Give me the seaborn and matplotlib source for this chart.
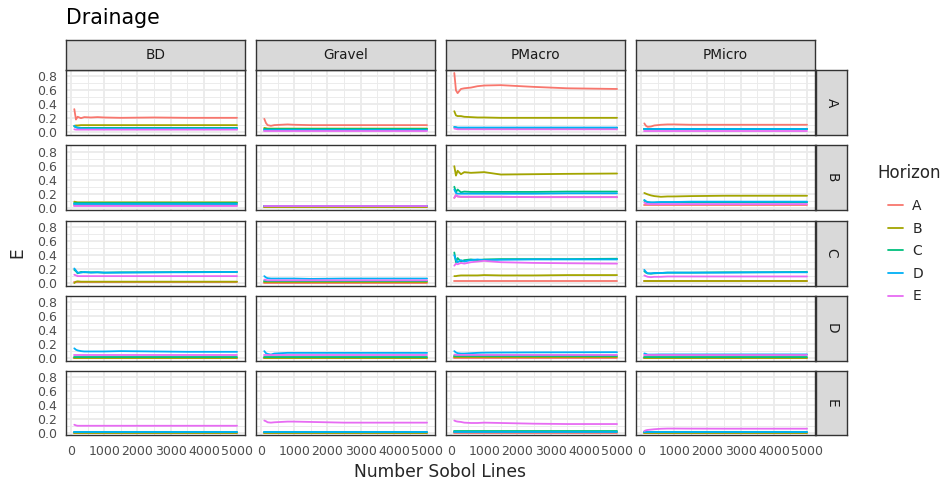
import numpy as np
import pandas as pd
import matplotlib
matplotlib.use("Agg")
import matplotlib.pyplot as plt
from matplotlib.lines import Line2D
import seaborn as sns

sns.set_style("white")
plt.rcParams['font.family'] = ['DejaVu Sans']

# ---------------- data ----------------
COLUMNS = ["BD", "Gravel", "PMacro", "PMicro"]
ROWS = ["A", "B", "C", "D", "E"]
HORIZONS = ["A", "B", "C", "D", "E"]
N_LINES = [100, 150, 200, 300, 400, 600, 800, 1000, 1500, 2500, 3500, 5000]

# each entry: row -> [A, B, C, D, E] series over N_LINES
BD = {
    "A": [[0.33, 0.18, 0.22, 0.20, 0.215, 0.21, 0.215, 0.21, 0.205, 0.21, 0.205, 0.205],
          [0.09, 0.095, 0.095, 0.10, 0.10, 0.10, 0.10, 0.10, 0.10, 0.10, 0.10, 0.10],
          [0.08, 0.07, 0.065, 0.06, 0.06, 0.06, 0.06, 0.06, 0.06, 0.06, 0.06, 0.06],
          [0.09, 0.07, 0.06, 0.055, 0.05, 0.05, 0.05, 0.05, 0.05, 0.05, 0.05, 0.05],
          [0.04, 0.035, 0.035, 0.035, 0.035, 0.035, 0.035, 0.035, 0.035, 0.035, 0.035, 0.035]],
    "B": [[0.03, 0.03, 0.03, 0.03, 0.03, 0.03, 0.03, 0.03, 0.03, 0.03, 0.03, 0.03],
          [0.085, 0.08, 0.075, 0.075, 0.075, 0.075, 0.075, 0.075, 0.075, 0.075, 0.075, 0.075],
          [0.06, 0.06, 0.06, 0.06, 0.06, 0.06, 0.06, 0.06, 0.06, 0.06, 0.06, 0.06],
          [0.05, 0.05, 0.05, 0.05, 0.05, 0.05, 0.05, 0.05, 0.05, 0.05, 0.05, 0.05],
          [0.025, 0.025, 0.025, 0.025, 0.025, 0.025, 0.025, 0.025, 0.025, 0.025, 0.025, 0.025]],
    "C": [[0.01, 0.01, 0.01, 0.01, 0.01, 0.01, 0.01, 0.01, 0.01, 0.01, 0.01, 0.01],
          [0.0, 0.02, 0.025, 0.02, 0.02, 0.02, 0.02, 0.02, 0.02, 0.02, 0.02, 0.02],
          [0.19, 0.17, 0.14, 0.16, 0.155, 0.155, 0.155, 0.15, 0.155, 0.155, 0.16, 0.16],
          [0.21, 0.18, 0.15, 0.15, 0.16, 0.15, 0.155, 0.15, 0.15, 0.155, 0.155, 0.16],
          [0.12, 0.11, 0.10, 0.10, 0.10, 0.10, 0.10, 0.10, 0.10, 0.10, 0.10, 0.10]],
    "D": [[0.003, 0.003, 0.003, 0.003, 0.003, 0.003, 0.003, 0.003, 0.003, 0.003, 0.003, 0.003],
          [0.006, 0.006, 0.006, 0.006, 0.006, 0.006, 0.006, 0.006, 0.006, 0.006, 0.006, 0.006],
          [0.012, 0.012, 0.012, 0.012, 0.012, 0.012, 0.012, 0.012, 0.012, 0.012, 0.012, 0.012],
          [0.14, 0.12, 0.11, 0.10, 0.095, 0.095, 0.095, 0.095, 0.10, 0.095, 0.09, 0.09],
          [0.05, 0.05, 0.05, 0.05, 0.05, 0.05, 0.05, 0.05, 0.05, 0.05, 0.05, 0.05]],
    "E": [[0.002, 0.002, 0.002, 0.002, 0.002, 0.002, 0.002, 0.002, 0.002, 0.002, 0.002, 0.002],
          [0.004, 0.004, 0.004, 0.004, 0.004, 0.004, 0.004, 0.004, 0.004, 0.004, 0.004, 0.004],
          [0.012, 0.012, 0.012, 0.012, 0.012, 0.012, 0.012, 0.012, 0.012, 0.012, 0.012, 0.012],
          [0.015, 0.015, 0.015, 0.015, 0.015, 0.015, 0.015, 0.015, 0.015, 0.015, 0.015, 0.015],
          [0.12, 0.11, 0.105, 0.105, 0.105, 0.105, 0.105, 0.105, 0.105, 0.105, 0.105, 0.105]],
}

GRAVEL = {
    "A": [[0.19, 0.13, 0.10, 0.09, 0.10, 0.105, 0.11, 0.105, 0.10, 0.10, 0.10, 0.10],
          [0.06, 0.055, 0.05, 0.05, 0.05, 0.05, 0.05, 0.05, 0.05, 0.05, 0.05, 0.05],
          [0.04, 0.04, 0.04, 0.04, 0.04, 0.04, 0.04, 0.04, 0.04, 0.04, 0.04, 0.04],
          [0.035, 0.035, 0.035, 0.035, 0.035, 0.035, 0.035, 0.035, 0.035, 0.035, 0.035, 0.035],
          [0.02, 0.02, 0.02, 0.02, 0.02, 0.02, 0.02, 0.02, 0.02, 0.02, 0.02, 0.02]],
    "B": [[0.012, 0.012, 0.012, 0.012, 0.012, 0.012, 0.012, 0.012, 0.012, 0.012, 0.012, 0.012],
          [0.014, 0.014, 0.014, 0.014, 0.014, 0.014, 0.014, 0.014, 0.014, 0.014, 0.014, 0.014],
          [0.016, 0.016, 0.016, 0.016, 0.016, 0.016, 0.016, 0.016, 0.016, 0.016, 0.016, 0.016],
          [0.018, 0.018, 0.018, 0.018, 0.018, 0.018, 0.018, 0.018, 0.018, 0.018, 0.018, 0.018],
          [0.022, 0.022, 0.022, 0.022, 0.022, 0.022, 0.022, 0.022, 0.022, 0.022, 0.022, 0.022]],
    "C": [[0.005, 0.005, 0.005, 0.005, 0.005, 0.005, 0.005, 0.005, 0.005, 0.005, 0.005, 0.005],
          [0.015, 0.015, 0.015, 0.015, 0.015, 0.015, 0.015, 0.015, 0.015, 0.015, 0.015, 0.015],
          [0.03, 0.03, 0.03, 0.03, 0.03, 0.03, 0.03, 0.03, 0.03, 0.03, 0.03, 0.03],
          [0.10, 0.08, 0.07, 0.065, 0.065, 0.065, 0.065, 0.065, 0.06, 0.065, 0.065, 0.065],
          [0.05, 0.045, 0.04, 0.04, 0.04, 0.04, 0.04, 0.04, 0.04, 0.04, 0.04, 0.04]],
    "D": [[0.004, 0.004, 0.004, 0.004, 0.004, 0.004, 0.004, 0.004, 0.004, 0.004, 0.004, 0.004],
          [0.008, 0.008, 0.008, 0.008, 0.008, 0.008, 0.008, 0.008, 0.008, 0.008, 0.008, 0.008],
          [0.015, 0.015, 0.015, 0.015, 0.015, 0.015, 0.015, 0.015, 0.015, 0.015, 0.015, 0.015],
          [0.10, 0.07, 0.06, 0.05, 0.065, 0.07, 0.075, 0.075, 0.075, 0.075, 0.075, 0.075],
          [0.04, 0.04, 0.04, 0.04, 0.04, 0.04, 0.04, 0.04, 0.04, 0.04, 0.04, 0.04]],
    "E": [[0.002, 0.002, 0.002, 0.002, 0.002, 0.002, 0.002, 0.002, 0.002, 0.002, 0.002, 0.002],
          [0.005, 0.005, 0.005, 0.005, 0.005, 0.005, 0.005, 0.005, 0.005, 0.005, 0.005, 0.005],
          [0.012, 0.012, 0.012, 0.012, 0.012, 0.012, 0.012, 0.012, 0.012, 0.012, 0.012, 0.012],
          [0.015, 0.015, 0.015, 0.015, 0.015, 0.015, 0.015, 0.015, 0.015, 0.015, 0.015, 0.015],
          [0.18, 0.17, 0.155, 0.15, 0.155, 0.16, 0.165, 0.165, 0.16, 0.15, 0.15, 0.15]],
}

PMACRO = {
    "A": [[0.85, 0.60, 0.56, 0.62, 0.63, 0.64, 0.66, 0.67, 0.675, 0.65, 0.63, 0.62],
          [0.30, 0.24, 0.23, 0.23, 0.22, 0.215, 0.21, 0.21, 0.205, 0.205, 0.205, 0.205],
          [0.07, 0.065, 0.06, 0.06, 0.06, 0.06, 0.06, 0.06, 0.06, 0.06, 0.06, 0.06],
          [0.075, 0.07, 0.065, 0.065, 0.065, 0.065, 0.065, 0.065, 0.065, 0.065, 0.065, 0.065],
          [0.05, 0.045, 0.04, 0.04, 0.04, 0.04, 0.04, 0.04, 0.04, 0.04, 0.04, 0.04]],
    "B": [[0.14, 0.18, 0.16, 0.155, 0.155, 0.155, 0.155, 0.155, 0.155, 0.15, 0.15, 0.15],
          [0.595, 0.46, 0.53, 0.48, 0.51, 0.50, 0.505, 0.51, 0.475, 0.48, 0.485, 0.49],
          [0.30, 0.22, 0.26, 0.22, 0.23, 0.225, 0.225, 0.225, 0.225, 0.225, 0.23, 0.23],
          [0.26, 0.21, 0.20, 0.20, 0.20, 0.20, 0.20, 0.20, 0.20, 0.20, 0.205, 0.205],
          [0.14, 0.18, 0.16, 0.155, 0.155, 0.155, 0.155, 0.155, 0.155, 0.15, 0.15, 0.15]],
    "C": [[0.025, 0.025, 0.025, 0.025, 0.025, 0.025, 0.025, 0.025, 0.025, 0.025, 0.025, 0.025],
          [0.10, 0.10, 0.105, 0.11, 0.11, 0.11, 0.11, 0.115, 0.11, 0.11, 0.115, 0.115],
          [0.44, 0.30, 0.36, 0.31, 0.33, 0.34, 0.33, 0.34, 0.345, 0.345, 0.345, 0.35],
          [0.40, 0.33, 0.30, 0.33, 0.31, 0.33, 0.34, 0.33, 0.335, 0.34, 0.34, 0.34],
          [0.25, 0.28, 0.27, 0.29, 0.28, 0.30, 0.31, 0.32, 0.30, 0.29, 0.285, 0.28]],
    "D": [[0.008, 0.008, 0.008, 0.008, 0.008, 0.008, 0.008, 0.008, 0.008, 0.008, 0.008, 0.008],
          [0.015, 0.015, 0.015, 0.015, 0.015, 0.015, 0.015, 0.015, 0.015, 0.015, 0.015, 0.015],
          [0.03, 0.03, 0.03, 0.03, 0.03, 0.03, 0.03, 0.03, 0.03, 0.03, 0.03, 0.03],
          [0.10, 0.08, 0.07, 0.065, 0.065, 0.07, 0.075, 0.078, 0.08, 0.082, 0.083, 0.085],
          [0.05, 0.045, 0.045, 0.045, 0.045, 0.045, 0.045, 0.045, 0.045, 0.045, 0.045, 0.045]],
    "E": [[0.005, 0.005, 0.005, 0.005, 0.005, 0.005, 0.005, 0.005, 0.005, 0.005, 0.005, 0.005],
          [0.01, 0.01, 0.01, 0.01, 0.01, 0.01, 0.01, 0.01, 0.01, 0.01, 0.01, 0.01],
          [0.03, 0.03, 0.03, 0.03, 0.03, 0.03, 0.03, 0.03, 0.03, 0.03, 0.03, 0.03],
          [0.02, 0.02, 0.02, 0.02, 0.02, 0.02, 0.02, 0.02, 0.02, 0.02, 0.02, 0.02],
          [0.18, 0.17, 0.165, 0.16, 0.15, 0.145, 0.145, 0.15, 0.145, 0.135, 0.13, 0.13]],
}

PMICRO = {
    "A": [[0.125, 0.09, 0.075, 0.08, 0.095, 0.105, 0.11, 0.11, 0.105, 0.105, 0.105, 0.105],
          [0.05, 0.05, 0.05, 0.05, 0.05, 0.05, 0.05, 0.05, 0.05, 0.05, 0.05, 0.05],
          [0.045, 0.045, 0.045, 0.045, 0.045, 0.045, 0.045, 0.045, 0.045, 0.045, 0.045, 0.045],
          [0.04, 0.04, 0.04, 0.04, 0.04, 0.04, 0.04, 0.04, 0.04, 0.04, 0.04, 0.04],
          [0.02, 0.02, 0.02, 0.02, 0.02, 0.02, 0.02, 0.02, 0.02, 0.02, 0.02, 0.02]],
    "B": [[0.04, 0.04, 0.04, 0.04, 0.04, 0.04, 0.04, 0.04, 0.04, 0.04, 0.04, 0.04],
          [0.21, 0.20, 0.19, 0.175, 0.165, 0.155, 0.16, 0.16, 0.165, 0.17, 0.17, 0.17],
          [0.10, 0.085, 0.075, 0.07, 0.07, 0.075, 0.075, 0.075, 0.075, 0.075, 0.075, 0.075],
          [0.11, 0.09, 0.08, 0.075, 0.075, 0.08, 0.08, 0.08, 0.085, 0.085, 0.085, 0.085],
          [0.07, 0.06, 0.05, 0.05, 0.05, 0.05, 0.05, 0.05, 0.05, 0.05, 0.05, 0.05]],
    "C": [[0.025, 0.025, 0.025, 0.025, 0.025, 0.025, 0.025, 0.025, 0.025, 0.025, 0.025, 0.025],
          [0.035, 0.035, 0.035, 0.035, 0.035, 0.035, 0.035, 0.035, 0.035, 0.035, 0.035, 0.035],
          [0.17, 0.15, 0.14, 0.135, 0.14, 0.145, 0.15, 0.15, 0.15, 0.155, 0.155, 0.16],
          [0.19, 0.16, 0.14, 0.14, 0.145, 0.145, 0.15, 0.15, 0.15, 0.15, 0.155, 0.155],
          [0.11, 0.10, 0.09, 0.085, 0.09, 0.09, 0.095, 0.095, 0.095, 0.095, 0.095, 0.095]],
    "D": [[0.004, 0.004, 0.004, 0.004, 0.004, 0.004, 0.004, 0.004, 0.004, 0.004, 0.004, 0.004],
          [0.008, 0.008, 0.008, 0.008, 0.008, 0.008, 0.008, 0.008, 0.008, 0.008, 0.008, 0.008],
          [0.015, 0.015, 0.015, 0.015, 0.015, 0.015, 0.015, 0.015, 0.015, 0.015, 0.015, 0.015],
          [0.067, 0.06, 0.05, 0.05, 0.05, 0.052, 0.052, 0.052, 0.052, 0.052, 0.052, 0.052],
          [0.04, 0.04, 0.04, 0.04, 0.04, 0.04, 0.04, 0.04, 0.04, 0.04, 0.04, 0.04]],
    "E": [[0.002, 0.002, 0.002, 0.002, 0.002, 0.002, 0.002, 0.002, 0.002, 0.002, 0.002, 0.002],
          [0.005, 0.005, 0.005, 0.005, 0.005, 0.005, 0.005, 0.005, 0.005, 0.005, 0.005, 0.005],
          [0.012, 0.012, 0.012, 0.012, 0.012, 0.012, 0.012, 0.012, 0.012, 0.012, 0.012, 0.012],
          [0.015, 0.015, 0.015, 0.015, 0.015, 0.015, 0.015, 0.015, 0.015, 0.015, 0.015, 0.015],
          [0.03, 0.04, 0.045, 0.05, 0.055, 0.062, 0.065, 0.065, 0.064, 0.063, 0.063, 0.063]],
}

X_TICKS = [0, 1000, 2000, 3000, 4000, 5000]
Y_TICKS = [0.0, 0.2, 0.4, 0.6, 0.8]
Y_TICK_LABELS = ["0.0", "0.2", "0.4", "0.6", "0.8"]

# ---------------- long table ----------------
PANEL_DATA = {"BD": BD, "Gravel": GRAVEL, "PMacro": PMACRO, "PMicro": PMICRO}
records = []
for col in COLUMNS:
    for row in ROWS:
        for h, series in zip(HORIZONS, PANEL_DATA[col][row]):
            for n, e in zip(N_LINES, series):
                records.append((col, row, h, n, e))
df = pd.DataFrame(records, columns=["Parameter", "Output", "Horizon", "N", "E"])

PALETTE = dict(zip(HORIZONS, ["#F8766D", "#A3A500", "#00BF7D", "#00B0F6", "#E76BF3"]))

# ---------------- layout (pixels) ----------------
W, H = 944, 486
fig = plt.figure(figsize=(W / 100, H / 100), dpi=100)

def box(left, top, width, height):
    return [left / W, 1 - (top + height) / H, width / W, height / H]

COL_LEFT = [66, 256, 446, 636]
PANEL_W = 179
ROW_TOP = [70, 145.5, 221, 296, 371]
PANEL_H = 64.5
STRIP_TOP_Y, STRIP_TOP_H = 40, 30
STRIP_R_X, STRIP_R_W = 816, 31
BORDER = "#333333"
STRIP_FILL = "#D9D9D9"
TICK_FS = 9
STRIP_FS = 9.8

for j, col in enumerate(COLUMNS):
    for i, row in enumerate(ROWS):
        ax = fig.add_axes(box(COL_LEFT[j], ROW_TOP[i], PANEL_W, PANEL_H))
        sub = df[(df["Parameter"] == col) & (df["Output"] == row)]
        sns.lineplot(data=sub, x="N", y="E", hue="Horizon", hue_order=HORIZONS,
                     palette=PALETTE, ax=ax, legend=False, linewidth=1.3,
                     errorbar=None, sort=True)
        ax.set_xlim(-150, 5240)
        ax.set_ylim(-0.035, 0.893)
        ax.set_xticks(X_TICKS)
        ax.set_xticks([500, 1500, 2500, 3500, 4500], minor=True)
        ax.set_yticks(Y_TICKS)
        ax.set_yticks([0.1, 0.3, 0.5, 0.7], minor=True)
        ax.grid(which="major", color="#EBEBEB", linewidth=1.3)
        ax.grid(which="minor", color="#EBEBEB", linewidth=0.65)
        ax.set_axisbelow(True)
        ax.set_xlabel("")
        ax.set_ylabel("")
        for s in ax.spines.values():
            s.set_color(BORDER)
            s.set_linewidth(1.0)
        ax.tick_params(which="minor", length=0)
        ax.tick_params(which="major", length=4, width=1.0, color=BORDER,
                       labelsize=TICK_FS, labelcolor="#4D4D4D", pad=2.5)
        if j == 0:
            ax.set_yticklabels(Y_TICK_LABELS)
        else:
            ax.tick_params(axis="y", left=False, labelleft=False)
        if i == len(ROWS) - 1:
            ax.set_xticklabels([str(t) for t in X_TICKS])
        else:
            ax.tick_params(axis="x", bottom=False, labelbottom=False)

    # top strip
    sax = fig.add_axes(box(COL_LEFT[j], STRIP_TOP_Y, PANEL_W, STRIP_TOP_H))
    sax.set_facecolor(STRIP_FILL)
    sax.set_xticks([]); sax.set_yticks([])
    for s in sax.spines.values():
        s.set_color(BORDER); s.set_linewidth(1.0)
    sax.text(0.5, 0.5, col, ha="center", va="center", fontsize=STRIP_FS,
             color="#1A1A1A", transform=sax.transAxes)

for i, row in enumerate(ROWS):
    sax = fig.add_axes(box(STRIP_R_X, ROW_TOP[i], STRIP_R_W, PANEL_H))
    sax.set_facecolor(STRIP_FILL)
    sax.set_xticks([]); sax.set_yticks([])
    for s in sax.spines.values():
        s.set_color(BORDER); s.set_linewidth(1.0)
    sax.text(0.5, 0.5, row, ha="center", va="center", fontsize=STRIP_FS,
             color="#1A1A1A", rotation=270, transform=sax.transAxes)

# titles
fig.text(66 / W, 1 - 18 / H, "Drainage", ha="left", va="center", fontsize=14.8, color="black")
fig.text(17.5 / W, 1 - 252.5 / H, "E", ha="center", va="center", rotation=90, fontsize=12.3)
fig.text(440.5 / W, 1 - 472 / H, "Number Sobol Lines", ha="center", va="center", fontsize=12.3)

# legend
fig.text(877 / W, 1 - 173 / H, "Horizon", ha="left", va="center", fontsize=12)
handles = [Line2D([0], [0], color=PALETTE[h], linewidth=1.3) for h in HORIZONS]
fig.legend(handles, HORIZONS, loc="upper left", bbox_to_anchor=(888 / W, 1 - 199 / H),
           frameon=False, fontsize=10, borderpad=0, borderaxespad=0,
           handlelength=1.1, handletextpad=0.65, labelspacing=0.62)

fig.savefig("out.png", dpi=100, facecolor="white")
